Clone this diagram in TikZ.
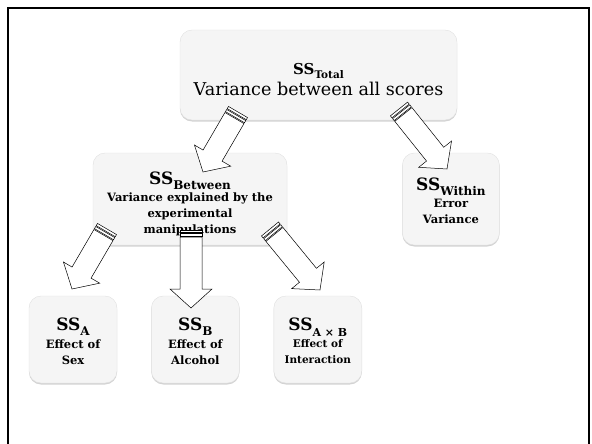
\documentclass[tikz,border=0pt]{standalone}
\usepackage{fontspec}
\setmainfont{DejaVu Serif}
\usetikzlibrary{positioning}
\usetikzlibrary{calc}
\usetikzlibrary{shadows}

% SS with a lowered label
\newcommand\SSof[3]{{\fontsize{#1}{#1}\selectfont\bfseries SS\raisebox{-.3em}{\fontsize{#2}{#2}\selectfont #3}}}

% striped block arrow from #1 (tail) to #2 (tip)
\newcommand\stripedarrow[2]{%
  \coordinate (sa) at ($(#1)!2.5pt!(#2)$);
  \coordinate (sb) at ($(#1)!3.5pt!(#2)$);
  \coordinate (sc) at ($(#1)!6pt!(#2)$);
  \coordinate (sd) at ($(#1)!7pt!(#2)$);
  \coordinate (sh) at ($(#2)!19pt!(#1)$);
  \draw[arr] ($(#1)!11pt!90:(#2)$) -- ($(#1)!11pt!-90:(#2)$) -- ($(sa)!11pt!-90:(#2)$) -- ($(sa)!11pt!90:(#2)$) -- cycle;
  \draw[arr] ($(sb)!11pt!90:(#2)$) -- ($(sb)!11pt!-90:(#2)$) -- ($(sc)!11pt!-90:(#2)$) -- ($(sc)!11pt!90:(#2)$) -- cycle;
  \draw[arr] ($(sd)!11pt!90:(#2)$) -- ($(sh)!11pt!90:(#2)$) -- ($(sh)!21pt!90:(#2)$) -- (#2)
    -- ($(sh)!21pt!-90:(#2)$) -- ($(sh)!11pt!-90:(#2)$) -- ($(sd)!11pt!-90:(#2)$) -- cycle;
}

\begin{document}
\begin{tikzpicture}[
    x=1pt, y=-1pt,
    node distance=34pt,
    box/.style={rectangle, rounded corners=12pt, draw=black!12, fill=black!4, align=center,
      drop shadow={shadow xshift=0pt, shadow yshift=-1.5pt, opacity=.35}},
    small/.style={box, minimum width=88pt, minimum height=87pt},
    body/.style={font=\fontsize{11.5}{16}\selectfont\bfseries},
    arr/.style={draw=black, fill=white, line width=0.5pt}
    ]
    \useasboundingbox (0,0) rectangle (592,444);
    \draw[line width=2pt] (8,444) -- (8,8) -- (589,8) -- (589,444);

    \node (total) [box, minimum width=277pt, minimum height=90pt] at (318.5,75)
      {\rule{0pt}{20pt}\SSof{15}{10.5}{Total}\\[2pt] {\fontsize{17.6}{18}\selectfont Variance between all scores}};
    \node (between) [box, body, minimum width=194pt, minimum height=92pt] at (190,199)
      {\rule{0pt}{22pt}\SSof{17}{12}{Between}\\[1pt] Variance explained by the\\ experimental\\ manipulations};
    \node (within) [box, body, minimum width=97pt, minimum height=92pt, right=115pt of between]
      {\rule{0pt}{16pt}\SSof{17}{12}{Within}\\[1pt] Error\\ Variance};
    \node (sa) [small, body] at (73,339.5) {\rule{0pt}{16pt}\SSof{17}{12}{A}\\[2pt] Effect of\\ Sex};
    \node (sb) [small, body, right=of sa] {\rule{0pt}{16pt}\SSof{17}{12}{B}\\[2pt] Effect of\\ Alcohol};
    \node (sab) [small, body, right=of sb] {\rule{0pt}{16pt}\SSof{17}{11}{A × B}\\[1pt] {\fontsize{10.5}{14}\selectfont Effect of}\\ {\fontsize{10.5}{14}\selectfont Interaction}};

    \coordinate (t1) at (238,112); \coordinate (h1) at (203,172);
    \coordinate (t2) at (399,109); \coordinate (h2) at (447,169);
    \coordinate (t3) at (107,229); \coordinate (h3) at (72,289);
    \coordinate (t4) at (191,230); \coordinate (h4) at (191,308);
    \coordinate (t5) at (270,229); \coordinate (h5) at (320,290);
    \stripedarrow{t1}{h1}
    \stripedarrow{t2}{h2}
    \stripedarrow{t3}{h3}
    \stripedarrow{t4}{h4}
    \stripedarrow{t5}{h5}
  \end{tikzpicture}
\end{document}
